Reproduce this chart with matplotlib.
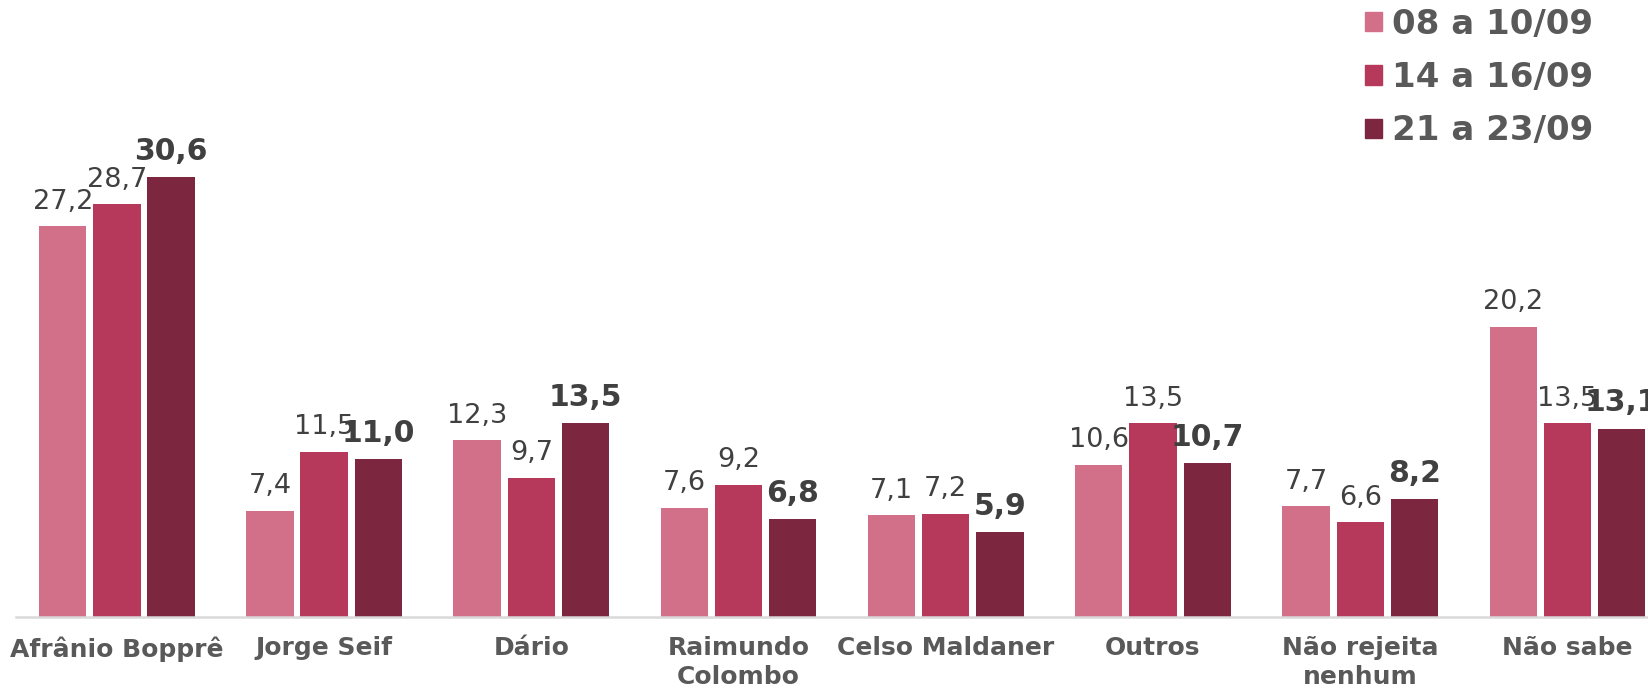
import matplotlib.pyplot as plt
from matplotlib.patches import Patch
import numpy as np

categories = ['Afrânio Bopprê', 'Jorge Seif', 'Dário', 'Raimundo\nColombo', 'Celso Maldaner',
              'Outros', 'Não rejeita\nnenhum', 'Não sabe']
series = ['08 a 10/09', '14 a 16/09', '21 a 23/09']
v1 = [27.2, 7.4, 12.3, 7.6, 7.1, 10.6, 7.7, 20.2]
v2 = [28.7, 11.5, 9.7, 9.2, 7.2, 13.5, 6.6, 13.5]
v3 = [30.6, 11.0, 13.5, 6.8, 5.9, 10.7, 8.2, 13.1]
colors = ['#D37089', '#B6395B', '#7C2640']

fig = plt.figure(figsize=(16.49, 6.91), dpi=100)
ax = fig.add_axes([16/1649, 74/691, 1 - 16/1649, 575/691])

x = np.arange(len(categories))
step = 0.2616
width = 0.228
for i, (vals, c) in enumerate(zip([v1, v2, v3], colors)):
    bars = ax.bar(x + (i - 1) * step, vals, width, color=c, label=series[i])
    for b, v in zip(bars, vals):
        ax.annotate(f'{v:.1f}'.replace('.', ','), (b.get_x() + b.get_width() / 2, v),
                    xytext=(0, 12.5), textcoords='offset points', ha='center', va='baseline',
                    fontsize=21.5 if i == 2 else 19.5, fontweight='bold' if i == 2 else 'normal',
                    color='#404040', annotation_clip=False)

ax.set_xlim(-0.487, 7.394)
ax.set_ylim(0, 40)
ax.set_yticks([])
for s in ['top', 'right', 'left']:
    ax.spines[s].set_visible(False)
ax.spines['bottom'].set_color('#D9D9D9')
ax.spines['bottom'].set_linewidth(1.8)
ax.set_xticks(x)
ax.set_xticklabels(categories, fontsize=18, fontweight='bold', color='#595959', linespacing=1.25)
ax.tick_params(axis='x', length=0, pad=14)

handles = [Patch(color=c) for c in colors]
fig.legend(handles, series, loc='upper left', bbox_to_anchor=(1365/1649, 0.989), frameon=False,
           prop={'size': 24.5, 'weight': 'bold'}, labelcolor='#595959',
           borderpad=0, borderaxespad=0,
           handlelength=0.5, handleheight=0.5, handletextpad=0.3, labelspacing=0.6)

plt.savefig('out.png')
